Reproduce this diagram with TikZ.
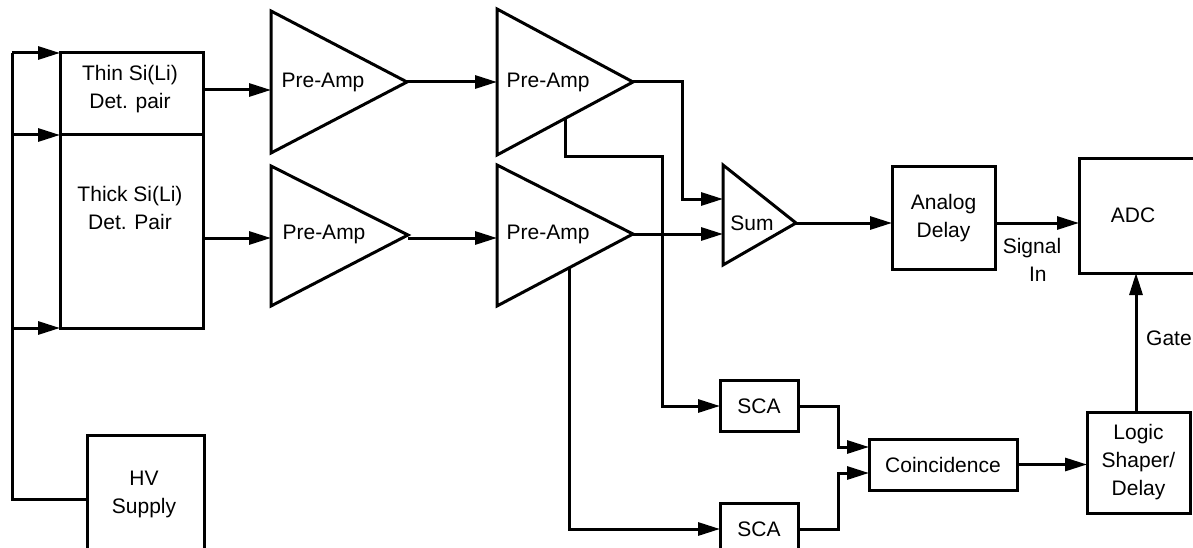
\documentclass[tikz,border=0pt]{standalone}
\usepackage{fontspec}
\setmainfont{Liberation Sans}
\usetikzlibrary{arrows.meta}
\begin{document}
\begin{tikzpicture}[x=1pt,y=-1pt,
  box/.style={draw,line width=3pt,inner sep=0pt,outer sep=0pt},
  lbl/.style={font=\fontsize{21}{28}\selectfont,align=center,inner sep=0pt},
  arr/.style={-{Triangle[length=22pt,width=13pt]}},
  wire/.style={line width=3pt,line join=miter}]
\useasboundingbox (0,0) rectangle (1193,548);
\clip (0,0) rectangle (1193,548);
% boxes
\node[box,minimum width=143pt,minimum height=82pt] (thin) at (131.5,94) {};
\node[box,minimum width=143pt,minimum height=193pt] (thick) at (131.5,231.5) {};
\node[lbl] (thintxt) at (130,89) {Thin Si(Li)\\ Det. pair};
\node[lbl] (thicktxt) at (130,208) {Thick Si(Li)\\ Det. Pair};
\node[box,minimum width=117pt,minimum height=130pt] (hv) at (145.5,500) {};
\node[lbl] (hvtxt) at (144,494) {HV\\Supply};
\node[box,minimum width=103pt,minimum height=102pt,lbl] (ad) at (943.5,218) {Analog\\Delay};
\node[box,minimum width=140pt,minimum height=114pt] (adc) at (1149,216) {};
\node[lbl] (adctxt) at (1133,215) {ADC};
\node[box,minimum width=78pt,minimum height=51pt,lbl] (sca1) at (759,406) {SCA};
\node[box,minimum width=78pt,minimum height=51pt,lbl] (sca2) at (759,529) {SCA};
\node[box,minimum width=148pt,minimum height=51pt,lbl] (coin) at (943,464.5) {Coincidence};
\node[box,minimum width=103pt,minimum height=101pt,lbl] (logic) at (1138.5,462.5) {Logic\\Shaper/\\Delay};
% triangles
\draw[wire] (271,11) -- (407,82) -- (271,153) -- cycle;
\draw[wire] (497,9) -- (633,82) -- (497,155) -- cycle;
\draw[wire] (271,166) -- (408,235) -- (271,306) -- cycle;
\draw[wire] (497,165) -- (633,234) -- (497,306) -- cycle;
\draw[wire] (723,165) -- (796,223) -- (723,265) -- cycle;
\coordinate (pa1in) at (271,90);
\coordinate (pa1out) at (407,82);
\coordinate (pa2in) at (497,82);
\coordinate (pa2out) at (633,82);
\coordinate (pa2tap) at (565,118.5);
\coordinate (pa3in) at (271,238);
\coordinate (pa3out) at (408,238);
\coordinate (pa4in) at (497,238);
\coordinate (pa4out) at (633,234);
\coordinate (pa4tap) at (569,268);
\coordinate (sumin1) at (723,199);
\coordinate (sumin2) at (723,234);
\coordinate (sumout) at (796,223);
\node[lbl] (pa1txt) at (323,82) {Pre-Amp};
\node[lbl] (pa2txt) at (548,82) {Pre-Amp};
\node[lbl] (pa3txt) at (324,234) {Pre-Amp};
\node[lbl] (pa4txt) at (548,234) {Pre-Amp};
\node[lbl] (sumtxt) at (752,223) {Sum};
% bias bus
\coordinate (bustop) at (12,53);
\draw[wire] (bustop) -- (12,499) -- (12,499 -| hv.west);
\draw[wire,arr] (bustop) -- (bustop -| thin.west);
\draw[wire,arr] (12,135) -- (60,135);
\draw[wire,arr] (12,328) -- (60,328);
% signal chain
\draw[wire,arr] (thin.east |- pa1in) -- (pa1in);
\draw[wire,arr] (thick.east |- 0,238) -- (pa3in);
\draw[wire,arr] (pa1out) -- (pa2in);
\draw[wire,arr] (pa3out) -- (pa4in);
\draw[wire,arr] (pa2out) -- (682,82) -- (682,199) -- (sumin1);
\draw[wire,arr] (pa4out) -- (sumin2);
\draw[wire,arr] (pa2tap) -- (565,157) -- (662,157) -- (662,406) -- (sca1.west);
\draw[wire,arr] (pa4tap) -- (569,529) -- (sca2.west);
\draw[wire,arr] (sumout) -- (sumout -| ad.west);
\draw[wire,arr] (sumout -| ad.east) -- (sumout -| adc.west);
\draw[wire,arr] (sca1.east) -- (838,406) -- (838,447) -- (coin.west |- 0,447);
\draw[wire,arr] (sca2.east) -- (838,529) -- (838,473) -- (coin.west |- 0,473);
\draw[wire,arr] (coin.east) -- (logic.west |- coin.east);
\draw[wire,arr] (1136,412) -- (1136,273);
\node[lbl] (sigtxt) at (1032,260) {Signal\\\ \ In};
\node[lbl,anchor=west] (gatetxt) at (1146,338) {Gate};
\end{tikzpicture}
\end{document}
